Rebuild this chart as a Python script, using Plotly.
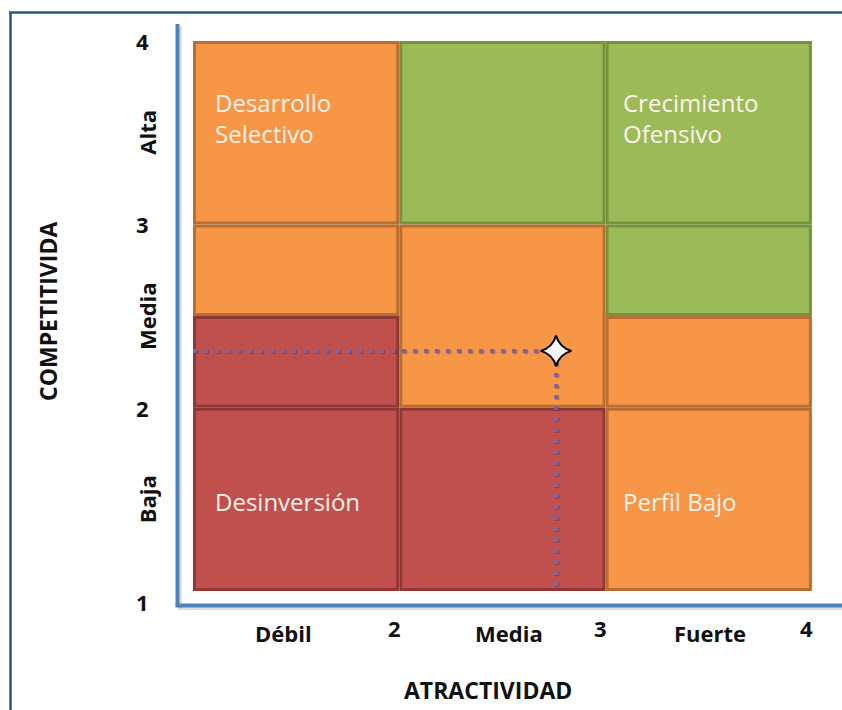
import plotly.graph_objects as go

W, H = 842, 710

# Matrix cells (attractiveness on x, competitiveness on y) in drawing order
cell_x0 = [2, 1, 3, 1, 2, 3, 1, 3, 1, 2, 3]
cell_x1 = [3, 2, 4, 2, 3, 4, 2, 4, 2, 3, 4]
cell_y0 = [3, 3, 3, 2.5, 2, 2.5, 2, 2, 1, 1, 1]
cell_y1 = [4, 4, 4, 3, 3, 3, 2.5, 2.5, 2, 2, 2]
cell_zone = ["green", "orange", "green", "orange", "orange", "green",
             "red", "orange", "red", "red", "orange"]

# Strategy names written inside the corner cells
zone_text = ["Desarrollo<br>Selectivo", "Crecimiento<br>Ofensivo",
             "Desinversión", "Perfil Bajo"]
zone_text_x = [1, 3, 1, 3]
zone_text_y = [3.58, 3.58, 1.49, 1.49]

# Evaluated position of the business unit
point_x = 2.76
point_y = 2.31

# Axis labels
x_ticks = [2, 3, 4]
x_words = ["Débil", "Media", "Fuerte"]
x_word_pos = [1.5, 2.5, 3.5]
y_ticks = [1, 2, 3, 4]
y_words = ["Baja", "Media", "Alta"]
y_word_pos = [1.5, 2.5, 3.5]

FILL = {"orange": "#F79646", "green": "#9BBB59", "red": "#C0504D"}
EDGE = {"orange": "#B86E33", "green": "#76923C", "red": "#8F3735"}

# pixel scale of the data axes
PX_X0, PX_PER_X = 193.0, 206.3
PY_Y1, PX_PER_Y = 591.0, 183.3
X_RANGE = [1 - (PX_X0 - 178) / PX_PER_X, 1 + (842 - PX_X0) / PX_PER_X]
Y_RANGE = [1 - (607 - PY_Y1) / PX_PER_Y, 1 + (PY_Y1 - 25) / PX_PER_Y]


def px(v):
    return v / W


def py(v):
    return 1 - v / H


fig = go.Figure()

shapes = []
bw = 3
ix = (bw / 2) / PX_PER_X
iy = (bw / 2) / PX_PER_Y
for x0, x1, y0, y1, z in zip(cell_x0, cell_x1, cell_y0, cell_y1, cell_zone):
    shapes.append(dict(type="rect", xref="x", yref="y",
                       x0=x0 + ix, x1=x1 - ix, y0=y0 + iy, y1=y1 - iy,
                       fillcolor=FILL[z], line=dict(color=EDGE[z], width=bw),
                       layer="below"))

# outer frame
frame_col = "#2B5488"
shapes.append(dict(type="line", xref="paper", yref="paper",
                   x0=px(10.5), x1=px(10.5), y0=py(12), y1=py(712),
                   line=dict(color=frame_col, width=2.5)))
shapes.append(dict(type="line", xref="paper", yref="paper",
                   x0=px(9), x1=px(845), y0=py(12.5), y1=py(12.5),
                   line=dict(color=frame_col, width=2.5)))

# axis lines with a soft shadow
axis_col = "#4F81BD"
for dx, col, w in [(2.5, "rgba(0,0,0,0.13)", 4), (0, axis_col, 4)]:
    shapes.append(dict(type="line", xref="paper", yref="paper",
                       x0=px(177.5 + dx), x1=px(177.5 + dx),
                       y0=py(24 + dx), y1=py(605.5 + dx),
                       line=dict(color=col, width=w)))
    shapes.append(dict(type="line", xref="paper", yref="paper",
                       x0=px(175.5 + dx), x1=px(845),
                       y0=py(605.5 + dx), y1=py(605.5 + dx),
                       line=dict(color=col, width=w)))

# dotted guides from the axes to the point, with a faint shadow
sx = 1.2 / PX_PER_X
sy = 1.2 / PX_PER_Y
for off, col in [(1, "rgba(40,30,60,0.35)"), (0, "#8064A2")]:
    g = dict(color=col, width=4, dash="4px,7px")
    fig.add_trace(go.Scatter(x=[1 + off * sx, point_x + off * sx],
                             y=[point_y - off * sy, point_y - off * sy],
                             mode="lines", line=g, hoverinfo="skip",
                             showlegend=False))
    fig.add_trace(go.Scatter(x=[point_x + off * sx, point_x + off * sx],
                             y=[point_y - off * sy, 1 - off * sy],
                             mode="lines", line=g, hoverinfo="skip",
                             showlegend=False))
fig.add_trace(go.Scatter(x=[point_x], y=[point_y], mode="markers",
                         marker=dict(symbol="star-diamond", size=22, color="#F4F4F4",
                                     line=dict(color="black", width=2)),
                         showlegend=False))

ann = []
cell_font = dict(family="Open Sans, Lato, sans-serif", size=24, color="#FDF3EA")
text_shift = [20, 15, 20, 15]
for t, x, y, s in zip(zone_text, zone_text_x, zone_text_y, text_shift):
    ann.append(dict(text=t, x=x, y=y, xref="x", yref="y", xanchor="left",
                    yanchor="middle", align="left", showarrow=False,
                    xshift=s, font=cell_font))

lab_font = dict(family="Open Sans, Lato, sans-serif", size=22, color="#111111",
                weight=700)
title_font = dict(lab_font, size=23)
word_shift = [-13, 7, 1]
for w, xp, s in zip(x_words, x_word_pos, word_shift):
    ann.append(dict(text=w, x=xp, y=py(633), xref="x", yref="paper",
                    xanchor="center", yanchor="middle",
                    showarrow=False, xshift=s, font=lab_font))
for t in x_ticks:
    ann.append(dict(text=str(t), x=t, y=py(628), xref="x", yref="paper",
                    xanchor="center", yanchor="middle",
                    showarrow=False, xshift=-5, font=lab_font))
for w, yp in zip(y_words, y_word_pos):
    ann.append(dict(text=w, x=px(147), y=yp, xref="paper", yref="y",
                    xanchor="center", yanchor="middle",
                    showarrow=False, textangle=-90, font=lab_font))
for t in y_ticks:
    ann.append(dict(text=str(t), x=px(142), y=t, xref="paper", yref="y",
                    xanchor="center", yanchor="middle",
                    showarrow=False, yshift=-11 if t == 1 else 0, font=lab_font))

ann.append(dict(text="ATRACTIVIDAD", x=px(488), y=py(690), xref="paper",
                yref="paper", xanchor="center", yanchor="middle",
                showarrow=False, font=title_font))
ann.append(dict(text="COMPETITIVIDA", x=px(48), y=py(312), xref="paper",
                yref="paper", xanchor="center", yanchor="middle",
                showarrow=False, textangle=-90, font=title_font))

fig.update_layout(
    width=W, height=H, margin=dict(l=0, r=0, t=0, b=0),
    paper_bgcolor="white", plot_bgcolor="rgba(0,0,0,0)",
    shapes=shapes, annotations=ann,
    xaxis=dict(domain=[178 / W, 1], range=X_RANGE, visible=False, fixedrange=True),
    yaxis=dict(domain=[1 - 607 / H, 1 - 25 / H], range=Y_RANGE, visible=False,
               fixedrange=True),
)

fig.write_html("out.html")
